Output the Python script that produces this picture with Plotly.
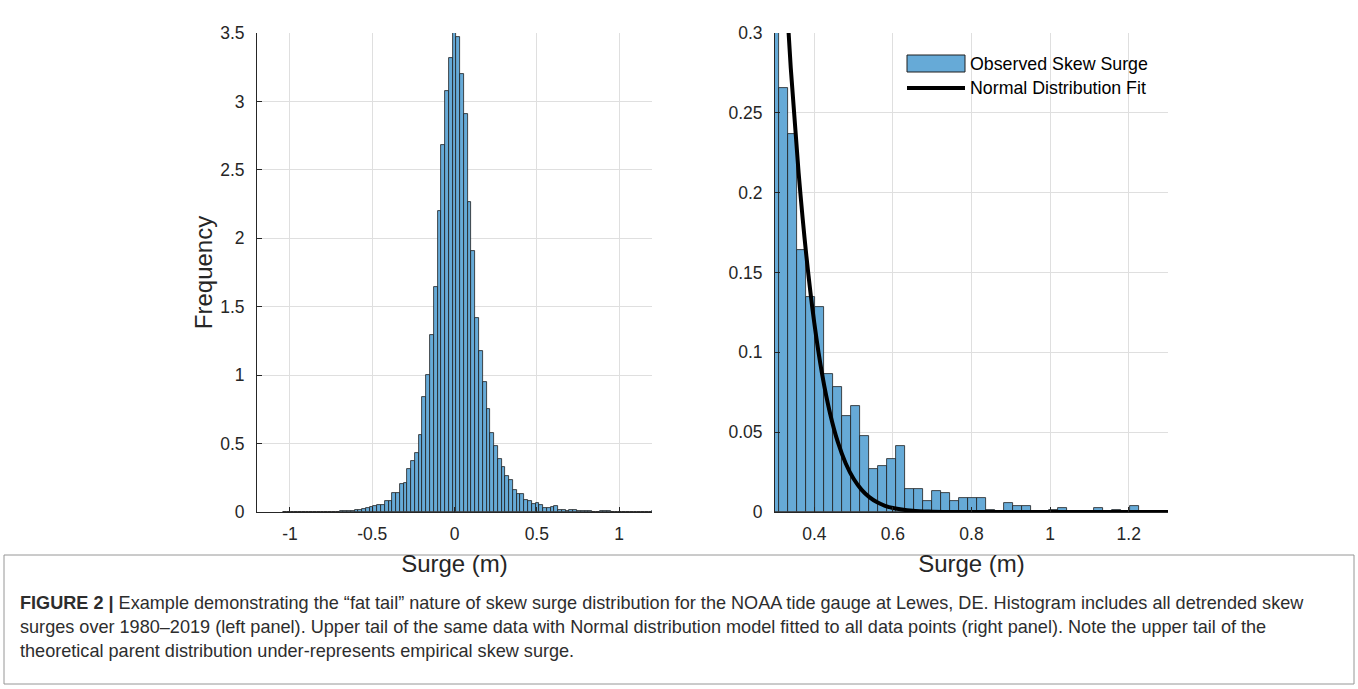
import plotly.graph_objects as go

# ---------------- data ----------------
BIN_WIDTH = 0.0229          # histogram bin width (m)
FIRST_BIN_CENTER = -1.0305  # centre of the first bin (m)

# pdf-normalised histogram heights, one per bin, left to right
hist_heights = [
    0.0005, 0.0007, 0.0005, 0.0010, 0.0007, 0.0010, 0.0012, 0.0010, 0.0015, 0.0015,   # -1.03 .. -0.82
    0.0020, 0.0020, 0.0025, 0.0030, 0.0035, 0.0040, 0.0050, 0.0070, 0.0100, 0.0120,   # -0.80 .. -0.60
    0.0160, 0.0230, 0.0270, 0.0340, 0.0450, 0.0480, 0.0510, 0.0820, 0.0800, 0.1370,   # -0.57 .. -0.37
    0.1410, 0.2040, 0.2130, 0.3110, 0.3710, 0.4280, 0.5600, 0.8420, 1.0000, 1.2900,   # -0.34 .. -0.14
    1.6450, 2.1990, 2.6800, 3.0780, 3.3200, 3.5040, 3.4700, 3.2000, 2.9050, 2.2640,   # -0.11 .. 0.09
    1.9070, 1.4150, 1.1730, 0.9500, 0.7530, 0.5790, 0.4830, 0.3900, 0.3260, 0.2655,   # 0.11 .. 0.32
    0.2370, 0.1640, 0.1346, 0.1283, 0.0865, 0.0785, 0.0599, 0.0662, 0.0476, 0.0271,   # 0.34 .. 0.55
    0.0290, 0.0334, 0.0413, 0.0146, 0.0146, 0.0070, 0.0133, 0.0116, 0.0070, 0.0085,   # 0.57 .. 0.78
    0.0085, 0.0085, 0.0012, 0.0000, 0.0058, 0.0039, 0.0039, 0.0000, 0.0000, 0.0012,   # 0.80 .. 1.01
    0.0024, 0.0008, 0.0000, 0.0000, 0.0024, 0.0000, 0.0012, 0.0000, 0.0037,           # 1.03 .. 1.21
]

# Normal distribution fit curve
fit_x = [0.30, 0.32, 0.34, 0.36, 0.38, 0.40, 0.42, 0.44, 0.46, 0.48, 0.50, 0.52,
         0.54, 0.56, 0.58, 0.60, 0.65, 0.70, 0.80, 1.00, 1.30]
fit_y = [0.4555, 0.359, 0.2785, 0.2127, 0.160, 0.1184, 0.0862, 0.0619, 0.0437, 0.0304,
         0.0208, 0.01404, 0.00931, 0.00608, 0.00391, 0.00248, 0.00074, 0.0002, 0.00001,
         0.0, 0.0]

left_xticks = [-1, -0.5, 0, 0.5, 1]
left_xtick_text = ["-1", "-0.5", "0", "0.5", "1"]
left_yticks = [0, 0.5, 1, 1.5, 2, 2.5, 3, 3.5]
left_ytick_text = ["0", "0.5", "1", "1.5", "2", "2.5", "3", "3.5"]
right_xticks = [0.4, 0.6, 0.8, 1.0, 1.2]
right_xtick_text = ["0.4", "0.6", "0.8", "1", "1.2"]
right_yticks = [0, 0.05, 0.1, 0.15, 0.2, 0.25, 0.3]
right_ytick_text = ["0", "0.05", "0.1", "0.15", "0.2", "0.25", "0.3"]

legend_labels = ["Observed Skew Surge", "Normal Distribution Fit"]
x_title = "Surge (m)"
y_title = "Frequency"
caption_lines = [
    "<b>FIGURE 2 |</b> Example demonstrating the \u201cfat tail\u201d nature of skew surge distribution for the NOAA tide gauge at Lewes, DE. Histogram includes all detrended skew",
    "surges over 1980\u20132019 (left panel). Upper tail of the same data with Normal distribution model fitted to all data points (right panel). Note the upper tail of the",
    "theoretical parent distribution under-represents empirical skew surge.",
]

# ---------------- styling ----------------
W, H = 1358, 689
BAR_FILL = "rgb(102,170,215)"
BAR_EDGE = "rgb(30,30,30)"
AX_COLOR = "#262626"
GRID = "rgb(223,223,223)"
FONT = "Liberation Sans, Arial, Helvetica, sans-serif"
TICK_FONT = dict(family=FONT, size=17.5, color=AX_COLOR)
TITLE_FONT = dict(family=FONT, size=24, color=AX_COLOR)


def px_x(p):
    return p / W


def px_y(p):
    return 1 - p / H


fig = go.Figure()

bar_style = dict(
    x0=FIRST_BIN_CENTER, dx=BIN_WIDTH, width=BIN_WIDTH,
    marker=dict(color=BAR_FILL, line=dict(color=BAR_EDGE, width=0.8)),
    showlegend=False, hoverinfo="x+y",
)
fig.add_trace(go.Bar(y=hist_heights, xaxis="x", yaxis="y", name=legend_labels[0], **bar_style))
fig.add_trace(go.Bar(y=hist_heights, xaxis="x2", yaxis="y2", name=legend_labels[0], **bar_style))
fig.add_trace(go.Scatter(x=fit_x, y=fit_y, xaxis="x2", yaxis="y2", mode="lines",
                         line=dict(color="black", width=4, shape="spline"),
                         name=legend_labels[1], showlegend=False))

axis_common = dict(
    showgrid=True, gridcolor=GRID, gridwidth=1, zeroline=False,
    showline=True, linecolor=AX_COLOR, linewidth=1, mirror=False,
    ticks="inside", ticklen=5, tickcolor=AX_COLOR, tickfont=TICK_FONT,
    tickmode="array", automargin=False,
)

fig.update_layout(
    width=W, height=H,
    margin=dict(l=0, r=0, t=0, b=0, pad=0),
    paper_bgcolor="white", plot_bgcolor="white",
    bargap=0, barmode="overlay",
    showlegend=False,
    font=dict(family=FONT, color=AX_COLOR),
    xaxis=dict(domain=[px_x(257), px_x(652)], range=[-1.2, 1.2], anchor="y",
               tickvals=left_xticks, ticktext=left_xtick_text, ticklabelstandoff=6,
               title=dict(text=x_title, font=TITLE_FONT, standoff=12), **axis_common),
    yaxis=dict(domain=[px_y(512), px_y(33)], range=[0, 3.5], anchor="x",
               tickvals=left_yticks, ticktext=left_ytick_text, ticklabelstandoff=8,
               title=dict(text=y_title, font=TITLE_FONT, standoff=0), **axis_common),
    xaxis2=dict(domain=[px_x(775), px_x(1168)], range=[0.3, 1.3], anchor="y2",
                tickvals=right_xticks, ticktext=right_xtick_text, ticklabelstandoff=6,
                title=dict(text=x_title, font=TITLE_FONT, standoff=12), **axis_common),
    yaxis2=dict(domain=[px_y(512), px_y(33)], range=[0, 0.3], anchor="x2",
                tickvals=right_yticks, ticktext=right_ytick_text, ticklabelstandoff=8,
                **axis_common),
)

# custom legend (MATLAB style, no box)
fig.add_shape(type="rect", xref="paper", yref="paper",
              x0=px_x(907), x1=px_x(965), y0=px_y(72), y1=px_y(55),
              fillcolor=BAR_FILL, line=dict(color=BAR_EDGE, width=1))
fig.add_shape(type="line", xref="paper", yref="paper",
              x0=px_x(907), x1=px_x(965), y0=px_y(88), y1=px_y(88),
              line=dict(color="black", width=4))
for label, ypix in zip(legend_labels, [64, 88]):
    fig.add_annotation(text=label, xref="paper", yref="paper", x=px_x(968), y=px_y(ypix),
                       xanchor="left", yanchor="middle", showarrow=False,
                       font=dict(family=FONT, size=17.8, color="black"))

# caption box and text
fig.add_shape(type="rect", xref="paper", yref="paper",
              x0=px_x(4), x1=px_x(1354), y0=px_y(684), y1=px_y(555),
              line=dict(color="rgb(150,150,150)", width=1), fillcolor="rgba(0,0,0,0)")
for line, ypix in zip(caption_lines, [603, 627, 651]):
    fig.add_annotation(text=line, xref="paper", yref="paper", x=px_x(18), y=px_y(ypix),
                       xanchor="left", yanchor="middle", showarrow=False, align="left",
                       font=dict(family=FONT, size=18.1, color="rgb(45,45,45)"))

fig.write_html("out.html", config={"displayModeBar": False},
               post_script="document.body.style.margin='0';document.body.style.overflow='hidden';")
